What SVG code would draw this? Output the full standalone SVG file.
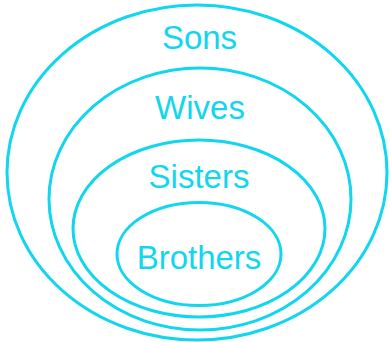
<svg xmlns="http://www.w3.org/2000/svg" width="389" height="342" viewBox="0 0 389 342">
<style>
.set{fill:none;stroke:#12d6ee;stroke-width:3}
.lbl{font-family:"Liberation Sans",Arial,sans-serif;font-size:33px;fill:#12d6ee;text-anchor:middle}
</style>
<rect width="389" height="342" fill="#fff"/>
<g id="sons"><ellipse class="set" cx="197" cy="172.5" rx="190" ry="167.5"/><text class="lbl" x="199.5" y="49">Sons</text></g>
<g id="wives"><ellipse class="set" cx="200" cy="199" rx="151" ry="131"/><text class="lbl" x="200" y="119">Wives</text></g>
<g id="sisters"><ellipse class="set" cx="199" cy="228.5" rx="126" ry="88.5"/><text class="lbl" x="199" y="188">Sisters</text></g>
<g id="brothers"><ellipse class="set" cx="199" cy="254" rx="82" ry="51.5"/><text class="lbl" x="199" y="269">Brothers</text></g>
<g id="connectors"/>
</svg>
